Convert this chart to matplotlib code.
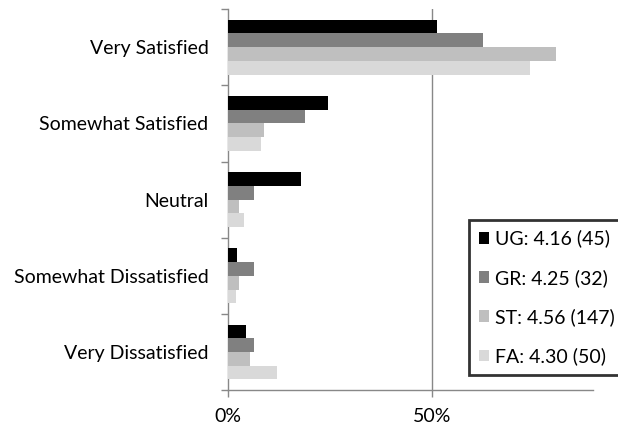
import numpy as np
import matplotlib.pyplot as plt
from matplotlib.ticker import FuncFormatter

# Response categories (top to bottom)
categories = ["Very Satisfied", "Somewhat Satisfied", "Neutral",
              "Somewhat Dissatisfied", "Very Dissatisfied"]

# Percent of respondents per group
ug = [51.1, 24.4, 17.8, 2.2, 4.4]
gr = [62.5, 18.75, 6.25, 6.25, 6.25]
st = [80.3, 8.8, 2.7, 2.7, 5.4]
fa = [74.0, 8.0, 4.0, 2.0, 12.0]

labels = ["UG: 4.16 (45)", "GR: 4.25 (32)", "ST: 4.56 (147)", "FA: 4.30 (50)"]
colors = ["#000000", "#808080", "#bfbfbf", "#d9d9d9"]

plt.rcParams['font.family'] = ['Lato', 'DejaVu Sans']
fs = 14

fig = plt.figure(figsize=(6.18, 4.33), dpi=100)
ax = fig.add_axes([0.369, 0.099, 0.591, 0.880])

series = [ug, gr, st, fa]
n = len(categories)
y = np.arange(n)[::-1].astype(float)
h = 0.18
for i, (vals, lab, col) in enumerate(zip(series, labels, colors)):
    ax.barh(y + (1.5 - i) * h, vals, height=h, color=col, label=lab, zorder=3)

ax.set_xlim(0, 89.5)
ax.set_ylim(-0.5, n - 0.5)
ax.set_xticks([0, 50])
ax.xaxis.set_major_formatter(FuncFormatter(lambda v, p: "%d%%" % v))
ax.set_yticks(y)
ax.set_yticklabels(categories)
ax.set_yticks(np.arange(-0.5, n, 1.0), minor=True)
ax.tick_params(axis='y', which='major', length=0, pad=14, labelsize=fs, colors='#000000')
ax.tick_params(axis='y', which='minor', length=5, color='#888888', width=1)
ax.tick_params(axis='x', length=5, color='#888888', width=1, labelsize=fs, pad=8)

for s in ['top', 'right']:
    ax.spines[s].set_visible(False)
for s in ['left', 'bottom']:
    ax.spines[s].set_color('#888888')
    ax.spines[s].set_linewidth(1)

ax.axvline(50, color='#888888', linewidth=1, zorder=1)

leg = ax.legend(loc='upper left', bbox_to_anchor=(0.759, 0.492),
                bbox_transform=fig.transFigure, fontsize=fs, frameon=True,
                fancybox=False, handlelength=0.55, handleheight=0.55,
                handletextpad=0.3, labelspacing=1.1, borderpad=0.5,
                borderaxespad=0)
leg.get_frame().set_edgecolor('#000000')
leg.get_frame().set_linewidth(2)

fig.savefig('out.png', dpi=100)
